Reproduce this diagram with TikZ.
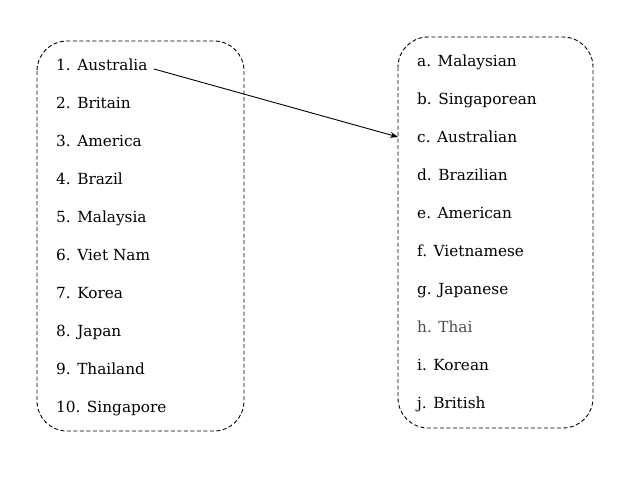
\documentclass[tikz,border=0pt]{standalone}
\usepackage{fontspec}
\setmainfont{DejaVu Serif}
\usetikzlibrary{arrows.meta}
\begin{document}
\begin{tikzpicture}[x=1pt,y=-1pt,
  item/.style={anchor=base west,inner sep=0pt,font=\fontsize{15.3}{17}\selectfont},
  frame/.style={draw,dashed,dash pattern=on 4pt off 2.5pt,line width=0.9pt,rounded corners=30pt},
  link/.style={-{Stealth[length=8pt,width=6pt]},line width=0.9pt}]
\useasboundingbox (0,0) rectangle (641,488);
\draw[frame] (37,41) rectangle (244,431);
\draw[frame] (398,37) rectangle (593,428);
\foreach \t [count=\i] in {1. Australia,2. Britain,3. America,4. Brazil,5. Malaysia,6. Viet Nam,7. Korea,8. Japan,9. Thailand,10. Singapore}
  \node[item] (l\i) at (56,{70+38.08*(\i-1)}) {\t};
\foreach \t/\c [count=\i] in {a. Malaysian/black,b. Singaporean/black,c. Australian/black,d. Brazilian/black,e. American/black,f. Vietnamese/black,g. Japanese/black,h. Thai/black!70,i. Korean/black,j. British/black}
  \node[item,text=\c] (r\i) at (417,{66+38.03*(\i-1)}) {\t};
\coordinate (s) at (154,69);
\coordinate (e) at (398,137);
\draw[link] (s) -- (e);
\end{tikzpicture}
\end{document}
